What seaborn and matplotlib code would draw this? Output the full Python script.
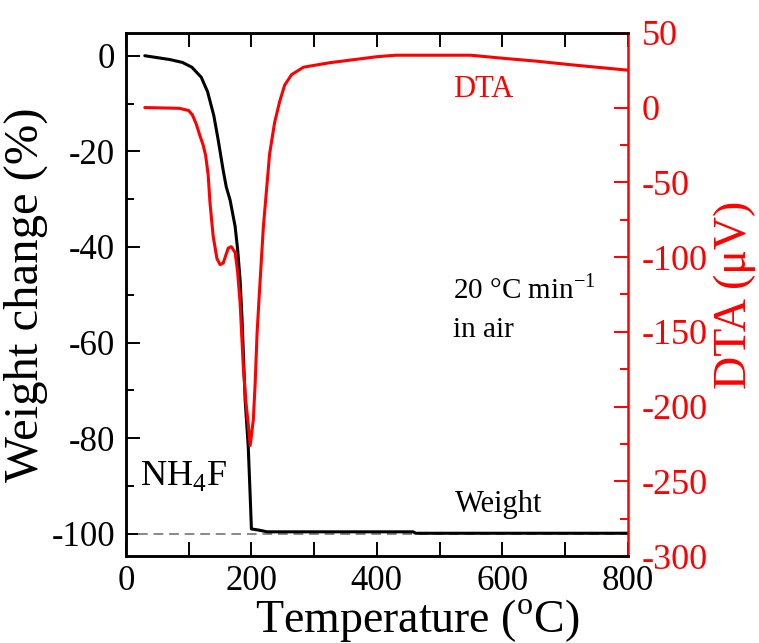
import numpy as np
import pandas as pd
import matplotlib
matplotlib.use('Agg')
import matplotlib.pyplot as plt
from matplotlib.ticker import MultipleLocator
import seaborn as sns

# ---------------- data ----------------
# TG curve (weight change, %)
tg_temp = [30, 50, 70, 90, 105, 120, 130, 140, 147, 155, 160, 166, 174, 178,
           182, 185, 190, 195, 198, 200, 210, 225, 300, 400, 458, 462, 600, 800]
tg_weight = [0, -0.4, -0.8, -1.4, -2.4, -4.5, -7.5, -12.5, -17.6, -24, -27.5,
             -30.2, -35.7, -40.5, -47, -55, -72, -82, -92, -99, -99.2, -99.6,
             -99.6, -99.6, -99.6, -99.9, -99.9, -99.9]

# DTA curve (uV)
dta_temp = [30, 85, 100, 106, 112, 118, 123, 127, 131, 134, 139, 145, 150, 155,
            163, 168, 174, 178, 182, 187, 191, 195, 198, 203, 206, 209, 212, 219,
            229, 237, 245, 253, 264, 283, 325, 400, 430, 550, 600, 655, 710, 800]
dta_uv = [0, -0.5, -2, -5, -11, -19, -25, -32, -45, -64, -86, -101, -105, -104,
          -94, -93, -97, -110, -131, -173, -196, -212, -226, -209, -184, -151,
          -129, -80, -31, -10, 4, 15, 22, 27, 30, 34, 35, 35, 33, 31, 28.6, 25]

df_tg = pd.DataFrame({'T': tg_temp, 'W': tg_weight})
df_dta = pd.DataFrame({'T': dta_temp, 'D': dta_uv})

# ---------------- style ----------------
sns.set_style('ticks')
plt.rcParams['font.family'] = ['Liberation Serif', 'DejaVu Serif']
plt.rcParams['mathtext.fontset'] = 'custom'
plt.rcParams['mathtext.rm'] = 'Liberation Serif'
plt.rcParams['axes.unicode_minus'] = False
plt.rcParams['text.color'] = 'black'
plt.rcParams['axes.labelcolor'] = 'black'
plt.rcParams['axes.edgecolor'] = 'black'

fig, ax = plt.subplots(figsize=(7.59, 6.43), dpi=100)
fig.subplots_adjust(left=0.166, right=0.827, bottom=0.135, top=0.949)

# reference line at -100 %
ax.axhline(-100, xmin=19 / 800, xmax=1, color='#888888', lw=1.4, ls=(0, (5, 3)))

sns.lineplot(data=df_tg, x='T', y='W', color='black', lw=2.2, ax=ax)

ax.set_xlim(0, 800)
ax.set_ylim(-104.7, 4.8)
ax.xaxis.set_major_locator(MultipleLocator(200))
ax.xaxis.set_minor_locator(MultipleLocator(100))
ax.yaxis.set_major_locator(MultipleLocator(20))
ax.yaxis.set_minor_locator(MultipleLocator(10))
ax.tick_params(axis='both', which='both', direction='in', top=True, width=1.4,
               colors='black')
ax.tick_params(axis='both', which='major', length=10)
ax.tick_params(axis='both', which='minor', length=6)
ax.tick_params(axis='x', which='both', length=10, labelsize=25, pad=6)
ax.tick_params(axis='y', labelsize=25, pad=8)
ax.tick_params(axis='y', which='both', right=False)
ax.set_xlabel('Temperature ($^\\mathrm{o}$C)', fontsize=33)
ax.set_ylabel('Weight change (%)', fontsize=35, labelpad=2)
ax.xaxis.set_label_coords(0.58, -0.078)

# DTA on the right axis
ax2 = ax.twinx()
sns.lineplot(data=df_dta, x='T', y='D', color='#ff0000', lw=2.2, ax=ax2)
ax2.set_ylim(-300, 50)
ax2.yaxis.set_major_locator(MultipleLocator(50))
ax2.yaxis.set_minor_locator(MultipleLocator(25))
ax2.tick_params(axis='y', which='both', direction='in', colors='#ff0000',
                width=1.4, labelsize=26, pad=10)
ax2.tick_params(axis='y', which='major', length=10)
ax2.tick_params(axis='y', which='minor', length=6)
ax2.set_ylabel('DTA (μV)', fontsize=33, color='#ff0000', labelpad=4)
ax2.set_xlabel('')

for sp in ['left', 'top', 'bottom']:
    ax.spines[sp].set_linewidth(1.8)
    ax2.spines[sp].set_linewidth(1.8)
ax2.spines['right'].set_color('#ff0000')
ax2.spines['right'].set_linewidth(1.8)
ax.spines['right'].set_visible(False)

# annotations (placed in left-axis data units)
ax.text(521, -7.1, 'DTA', color='#ff0000', fontsize=22, va='center')
ax.text(521, -50.7, '20 °C min$^{\\mathrm{-1}}$', fontsize=21, va='baseline')
ax.text(521, -58.8, 'in air', fontsize=21, va='baseline')
ax.text(22, -89.8, 'NH$_{\\mathrm{4}}$F', fontsize=26, va='baseline')
ax.text(524, -95.5, 'Weight', fontsize=22, va='baseline')

plt.savefig('out.png', dpi=100)
